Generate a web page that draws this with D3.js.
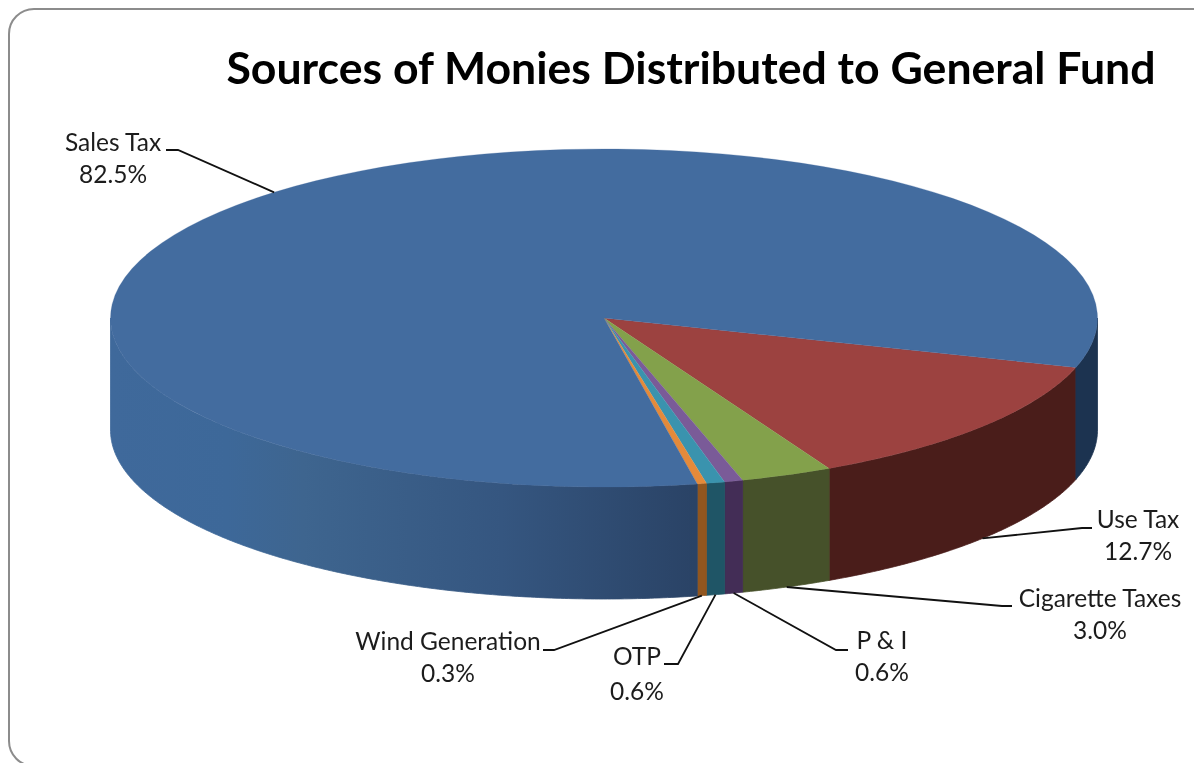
<!DOCTYPE html>
<html>
<head>
<meta charset="utf-8">
<script src="https://cdn.jsdelivr.net/npm/d3@7/dist/d3.min.js"></script>
<style>
html,body{margin:0;padding:0;background:#fff;overflow:hidden}
svg{display:block;filter:blur(0.45px)}
text{font-family:Lato,"Open Sans",sans-serif}
</style>
</head>
<body>
<svg id="c" width="1194" height="763"></svg>
<script>
const titleText = "Sources of Monies Distributed to General Fund";
const categories = ["Use Tax", "Cigarette Taxes", "P & I", "OTP", "Wind Generation", "Sales Tax"];
const values = [12.7, 3.0, 0.6, 0.6, 0.3, 82.5];
const topColors = ["#9c4240", "#83a14b", "#7a5b98", "#3a93ae", "#e48a3a", "#436c9f"];
const sideColors = ["#4a1d1a", "#46512a", "#432d56", "#1f5566", "#91561f", "url(#salesSide)"];
const salesSideStops = [[0, "#3f699b"], [0.2, "#3d6899"], [0.33, "#3e658f"], [0.67, "#355680"], [1, "#2a4366"]];
const salesBackSide = "#1c3350";

// layout: label centre x, first baseline y, elbow and end of the leader
const labelLayout = {
  "Sales Tax":       {x: 113,  y: 151, ex: 178,  ey: 150, tx: 166,  ty: 150},
  "Use Tax":         {x: 1138, y: 528, ex: 1082, ey: 528, tx: 1092, ty: 528},
  "Cigarette Taxes": {x: 1100, y: 607, ex: 1002, ey: 606, tx: 1012, ty: 606},
  "P & I":           {x: 882,  y: 649, ex: 836,  ey: 650, tx: 848,  ty: 650},
  "OTP":             {x: 637,  y: 665, ex: 678,  ey: 664, tx: 664,  ty: 664},
  "Wind Generation": {x: 448,  y: 650, ex: 554,  ey: 650, tx: 543,  ty: 650}
};
const percentDy = {"OTP": 35};

const cx = 604, cy = 318, rx = 493.5, ry = 169, depth = 112;
const rad = Math.PI / 180;
const startDeg = 107;

const svg = d3.select("#c");
const defs = svg.append("defs");
const grad = defs.append("linearGradient").attr("id", "salesSide")
  .attr("gradientUnits", "userSpaceOnUse")
  .attr("x1", cx - rx).attr("x2", cx + 90).attr("y1", 0).attr("y2", 0);
grad.selectAll("stop").data(salesSideStops).join("stop")
  .attr("offset", d => d[0]).attr("stop-color", d => d[1]);

svg.append("rect").attr("x", 9).attr("y", 9).attr("width", 1400).attr("height", 757)
  .attr("rx", 25).attr("ry", 25).attr("fill", "#fff").attr("stroke", "#8c8c8c").attr("stroke-width", 2);

const pie = d3.pie().sort(null).value(d => d)
  .startAngle(startDeg * rad).endAngle(startDeg * rad + 2 * Math.PI);
const arcs = pie(values);

const px = d3.scaleLinear().domain([-1, 1]).range([cx - rx, cx + rx]);
const py = d3.scaleLinear().domain([-1, 1]).range([cy - ry, cy + ry]);
const rimPoint = (a, drop) => [px(Math.sin(a)), py(-Math.cos(a)) + drop];

// visible wall of the disc: clockwise angle between 90 and 270 degrees
function wallPath(a0, a1) {
  const lo = Math.max(a0, 90 * rad), hi = Math.min(a1, 270 * rad);
  if (hi <= lo) return null;
  const n = Math.max(2, Math.ceil((hi - lo) / (0.5 * rad)));
  const angles = d3.range(n + 1).map(i => lo + (hi - lo) * i / n);
  const pts = angles.map(a => rimPoint(a, 0))
    .concat(angles.slice().reverse().map(a => rimPoint(a, depth)));
  return d3.line()(pts) + "Z";
}

const walls = svg.append("g");
const addWall = (d, fill) => walls.append("path").attr("d", d).attr("fill", fill)
  .attr("stroke", fill).attr("stroke-width", 0.8);
arcs.forEach((d, i) => {
  addWall(wallPath(d.startAngle, d.endAngle), sideColors[i]);
  // Sales Tax wraps past 360 degrees: it also owns the wall before the first slice
  const again = wallPath(d.startAngle - 2 * Math.PI, d.endAngle - 2 * Math.PI);
  if (again) addWall(again, salesBackSide);
});

const arcGen = d3.arc().innerRadius(0).outerRadius(rx);
svg.append("g").attr("transform", `translate(${cx},${cy}) scale(1,${ry / rx})`)
  .selectAll("path").data(arcs).join("path")
  .attr("d", arcGen).attr("fill", (d, i) => topColors[i])
  .attr("stroke", (d, i) => topColors[i]).attr("stroke-width", 0.4);

const leaders = svg.append("g");
arcs.forEach((d, i) => {
  const name = categories[i], l = labelLayout[name];
  const mid = (d.startAngle + d.endAngle) / 2;
  const front = Math.cos(mid) < 0;
  const a = rimPoint(mid, front ? depth : 0);
  leaders.append("path")
    .attr("d", d3.line()([a, [l.ex, l.ey], [l.tx, l.ty]]))
    .attr("fill", "none").attr("stroke", "#111").attr("stroke-width", 1.8);
  const t = svg.append("g").attr("text-anchor", "middle").attr("fill", "#1c1c1c").attr("font-size", 24.5);
  t.append("text").attr("x", l.x).attr("y", l.y).text(name);
  t.append("text").attr("x", l.x).attr("y", l.y + (percentDy[name] || 32)).text(d3.format(".1f")(values[i]) + "%");
});

svg.append("text").attr("x", 691).attr("y", 84).attr("text-anchor", "middle")
  .attr("font-size", 44.6).attr("font-weight", 700).attr("fill", "#000").text(titleText);
</script>
</body>
</html>
